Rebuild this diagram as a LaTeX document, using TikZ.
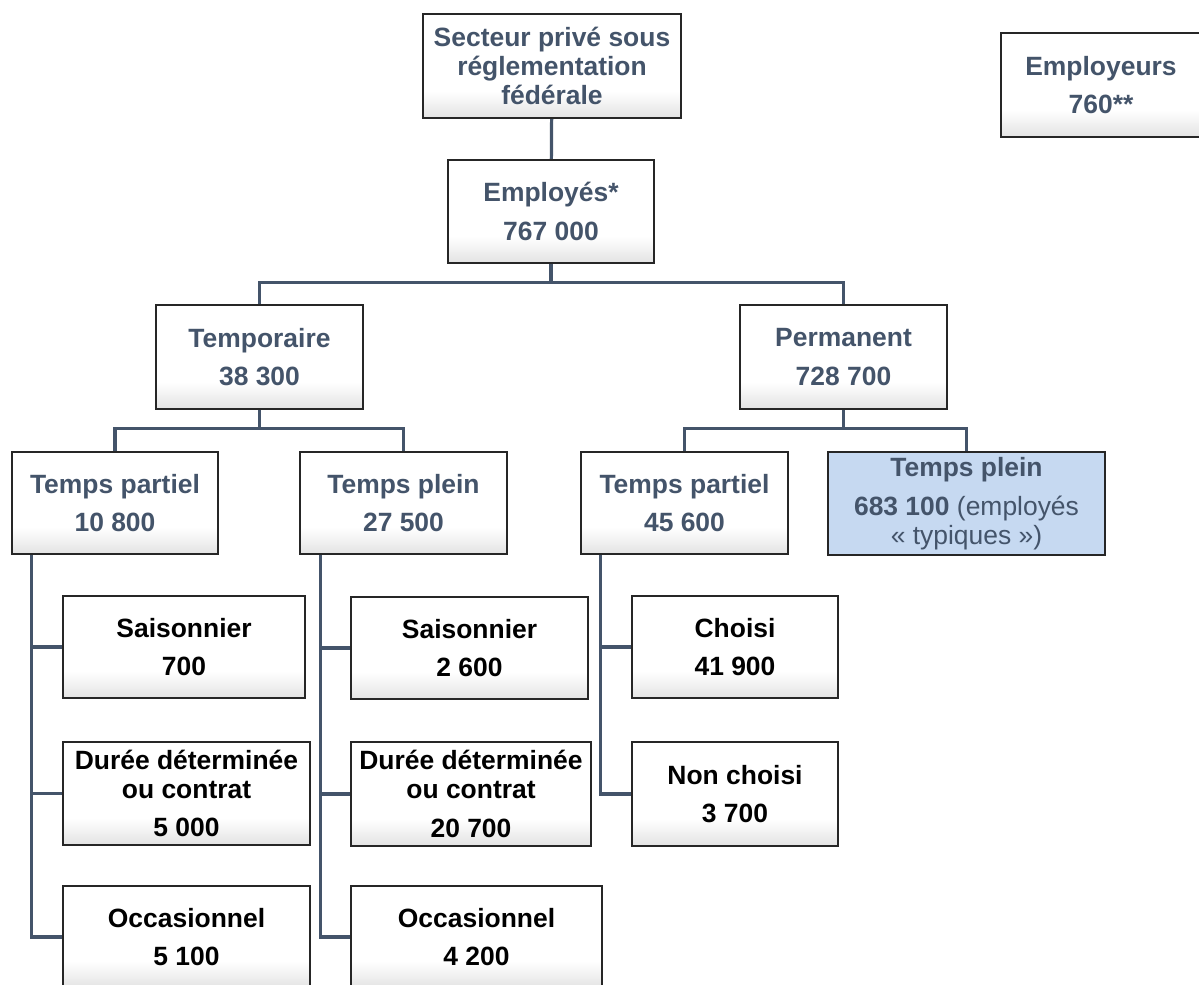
\documentclass[tikz,border=0pt]{standalone}
\usepackage{fontspec}
\setmainfont{Liberation Sans}
\definecolor{ardoise}{RGB}{68,84,106}
\definecolor{bleupale}{RGB}{198,217,241}
\pgfdeclareverticalshading{boxfade}{100bp}{color(0bp)=(black!11); color(25bp)=(black!11); color(38bp)=(white); color(100bp)=(white)}
\tikzset{
  boite/.style 2 args={draw=black!85, line width=1.6pt, shade, shading=boxfade,
    inner sep=0pt, align=center, minimum width=#1, minimum height=#2,
    font=\fontsize{18.8}{20.6}\selectfont\bfseries},
  haut/.style 2 args={boite={#1}{#2}, text=ardoise},
  feuille/.style 2 args={boite={#1}{#2}, text=black},
  lien/.style={draw=ardoise, line width=2.3pt}
}
\begin{document}
\begin{tikzpicture}[x=0.025cm, y=-0.025cm]
      \useasboundingbox (0,0) rectangle (1199,985);
      % niveaux du haut
      \node[haut={6.45cm}{2.6cm}] (secteur) at (552,66) {Secteur privé sous\\réglementation\\fédérale};
      \node[haut={5cm}{2.6cm}] (employeurs) at (1101,85) {Employeurs\\[6.8pt]760**};
      \node[haut={5.15cm}{2.575cm}] (employes) at (551,211.5) {Employés*\\[6.8pt]767 000};
      \node[haut={5.175cm}{2.6cm}] (temporaire) at (259.5,357) {Temporaire\\[6.8pt]38 300};
      \node[haut={5.175cm}{2.6cm}] (permanent) at (843.5,357) {Permanent\\[6.8pt]728 700};
      \node[haut={5.15cm}{2.55cm}] (tpartielA) at (115,503) {Temps partiel\\[6.8pt]10 800};
      \node[haut={5.175cm}{2.55cm}] (tpleinA) at (403.5,503) {Temps plein\\[6.8pt]27 500};
      \node[haut={5.175cm}{2.55cm}] (tpartielB) at (684.5,503) {Temps partiel\\[6.8pt]45 600};
      \node[haut={6.925cm}{2.575cm}, fill=bleupale, shading=, shade=false] (tpleinB) at (966.5,503.5)
        {Temps plein\\[6.8pt]683 100 {\mdseries(employés}\\{\mdseries«~typiques~»)}};
      % feuilles
      \node[feuille={6.05cm}{2.55cm}] (saisA) at (184,647) {Saisonnier\\[6.8pt]700};
      \node[feuille={6.175cm}{2.575cm}] (dureeA) at (186.5,793.5) {Durée déterminée\\ou contrat\\[6.8pt]5 000};
      \node[feuille={6.175cm}{2.55cm}] (occA) at (186.5,937) {Occasionnel\\[6.8pt]5 100};
      \node[feuille={5.925cm}{2.55cm}] (saisB) at (469.5,648) {Saisonnier\\[6.8pt]2 600};
      \node[feuille={6cm}{2.6cm}] (dureeB) at (471,794) {Durée déterminée\\ou contrat\\[6.8pt]20 700};
      \node[feuille={6.275cm}{2.55cm}] (occB) at (476.5,937) {Occasionnel\\[6.8pt]4 200};
      \node[feuille={5.15cm}{2.55cm}] (choisi) at (735,647) {Choisi\\[6.8pt]41 900};
      \node[feuille={5.15cm}{2.6cm}] (nonchoisi) at (735,794) {Non choisi\\[6.8pt]3 700};
      % liens
      \begin{scope}[lien]
        \draw (secteur) to (employes);
        \draw (temporaire.north) -- ++(0,-21) coordinate (j1) -| (permanent.north);
        \draw (employes.south) -- (employes.south |- j1);
        \draw (tpartielA.north) -- ++(0,-22) coordinate (j2) -| (tpleinA.north);
        \draw (temporaire.south) -- (temporaire.south |- j2);
        \draw (tpartielB.north) -- ++(0,-22) coordinate (j3) -| (tpleinB.north);
        \draw (permanent.south) -- (permanent.south |- j3);
        \draw (tpartielA.south west) ++(21,0) |- (occA.west);
        \draw (tpleinA.south west) ++(22,0) |- (occB.west);
        \draw (tpartielB.south west) ++(21,0) |- (nonchoisi.west);
        \foreach \n in {saisA,dureeA,saisB,dureeB,choisi}
          \draw (\n.west) -- ++(-30,0);
      \end{scope}
    \end{tikzpicture}
\end{document}
